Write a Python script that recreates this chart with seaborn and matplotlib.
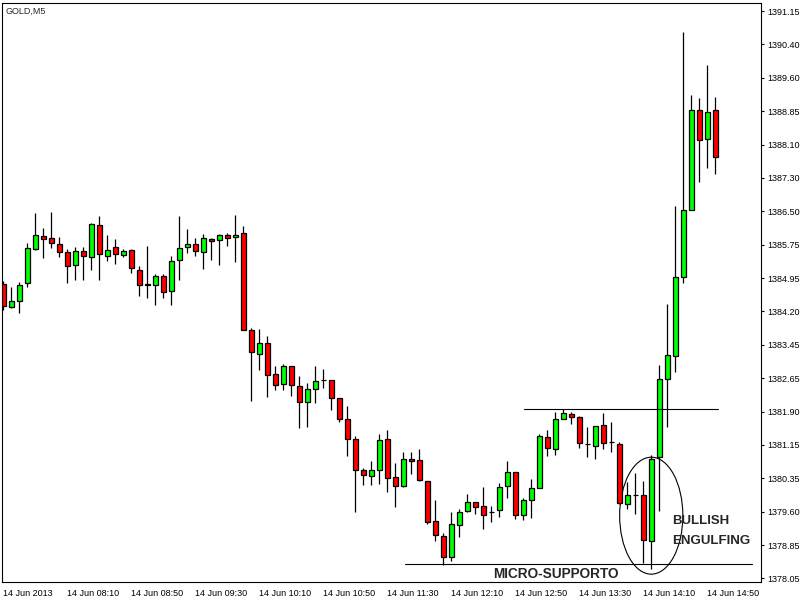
import numpy as np
import seaborn as sns
import matplotlib.pyplot as plt
from matplotlib.patches import Ellipse

# GOLD M5, 14 Jun 2013 (one candle every 5 min from 07:30)
opens = [1384.85, 1384.32, 1384.45, 1384.86, 1385.66, 1385.95, 1385.90, 1385.77, 1385.58, 1385.28,
         1385.60, 1385.47, 1386.21, 1385.49, 1385.70, 1385.51, 1385.63, 1385.16, 1384.84, 1384.82,
         1385.03, 1384.68, 1385.40, 1385.70, 1385.77, 1385.58, 1385.88, 1385.86, 1385.97, 1385.93,
         1386.02, 1383.78, 1383.24, 1383.48, 1382.76, 1382.53, 1382.95, 1382.49, 1382.12, 1382.42,
         1382.63, 1382.63, 1382.21, 1381.73, 1381.26, 1380.55, 1380.41, 1380.55, 1381.26, 1380.39,
         1380.18, 1380.80, 1380.78, 1380.29, 1379.37, 1379.02, 1378.54, 1379.28, 1379.60, 1379.81,
         1379.72, 1379.59, 1379.62, 1380.18, 1380.50, 1379.51, 1379.86, 1380.13, 1381.31, 1381.03,
         1381.73, 1381.84, 1381.77, 1381.15, 1381.10, 1381.59, 1381.19, 1381.15, 1379.76, 1379.97,
         1379.97, 1378.91, 1380.85, 1382.65, 1383.18, 1385.00, 1386.55, 1388.86, 1388.19, 1388.86]
highs = [1384.92, 1384.77, 1384.89, 1385.79, 1386.49, 1386.14, 1386.51, 1385.93, 1385.65, 1385.70,
         1385.70, 1386.26, 1386.42, 1385.98, 1385.89, 1385.66, 1385.66, 1385.26, 1385.73, 1385.08,
         1385.08, 1385.49, 1386.42, 1386.12, 1385.91, 1386.01, 1385.91, 1386.01, 1386.02, 1386.44,
         1386.19, 1383.83, 1383.80, 1383.64, 1382.95, 1383.00, 1382.95, 1382.72, 1382.56, 1382.96,
         1382.89, 1382.63, 1382.21, 1382.03, 1381.33, 1380.59, 1380.76, 1381.38, 1381.47, 1380.71,
         1380.96, 1380.96, 1381.03, 1380.29, 1379.86, 1379.09, 1379.58, 1379.65, 1379.99, 1379.81,
         1380.16, 1379.72, 1380.25, 1380.76, 1380.50, 1379.90, 1380.34, 1381.38, 1381.47, 1381.89,
         1381.96, 1381.89, 1381.79, 1381.55, 1381.56, 1381.86, 1381.66, 1381.19, 1380.27, 1380.48,
         1380.29, 1380.89, 1382.98, 1384.39, 1386.64, 1390.67, 1389.20, 1389.14, 1389.90, 1389.16]
lows = [1384.25, 1384.30, 1384.19, 1384.79, 1385.63, 1385.46, 1385.69, 1385.47, 1384.88, 1384.95,
        1384.95, 1385.16, 1384.95, 1385.37, 1385.32, 1385.48, 1385.10, 1384.56, 1384.53, 1384.37,
        1384.53, 1384.37, 1384.95, 1385.56, 1385.49, 1385.20, 1385.41, 1385.29, 1385.72, 1385.36,
        1383.78, 1382.15, 1382.87, 1382.25, 1382.39, 1382.39, 1382.27, 1381.53, 1381.55, 1382.09,
        1382.44, 1381.94, 1381.67, 1380.88, 1379.59, 1380.20, 1380.20, 1380.22, 1380.04, 1379.69,
        1380.16, 1380.46, 1380.29, 1379.30, 1378.91, 1378.35, 1378.45, 1379.00, 1379.58, 1379.53,
        1379.19, 1379.35, 1379.46, 1379.90, 1379.42, 1379.39, 1379.44, 1380.13, 1380.87, 1380.89,
        1381.73, 1381.61, 1381.06, 1380.85, 1380.80, 1381.03, 1380.96, 1379.76, 1379.65, 1379.53,
        1378.40, 1378.28, 1379.60, 1381.54, 1382.82, 1384.86, 1386.55, 1387.21, 1387.53, 1387.39]
closes = [1384.34, 1384.46, 1384.82, 1385.67, 1385.97, 1385.88, 1385.79, 1385.59, 1385.26, 1385.60,
          1385.49, 1386.23, 1385.53, 1385.63, 1385.53, 1385.60, 1385.21, 1384.82, 1384.82, 1385.03,
          1384.67, 1385.37, 1385.67, 1385.77, 1385.60, 1385.90, 1385.83, 1385.97, 1385.90, 1385.97,
          1383.78, 1383.27, 1383.48, 1382.74, 1382.51, 1382.95, 1382.51, 1382.12, 1382.42, 1382.60,
          1382.63, 1382.21, 1381.73, 1381.26, 1380.55, 1380.43, 1380.55, 1381.24, 1380.36, 1380.18,
          1380.80, 1380.76, 1380.32, 1379.35, 1379.05, 1378.54, 1379.30, 1379.58, 1379.81, 1379.69,
          1379.51, 1379.59, 1380.16, 1380.50, 1379.51, 1379.86, 1380.13, 1381.33, 1381.06, 1381.73,
          1381.86, 1381.77, 1381.17, 1381.15, 1381.56, 1381.17, 1381.19, 1379.79, 1379.97, 1379.97,
          1378.95, 1380.80, 1382.65, 1383.20, 1385.00, 1386.55, 1388.86, 1388.17, 1388.81, 1387.77]

time_labels = ['14 Jun 2013', '14 Jun 08:10', '14 Jun 08:50', '14 Jun 09:30', '14 Jun 10:10',
               '14 Jun 10:50', '14 Jun 11:30', '14 Jun 12:10', '14 Jun 12:50', '14 Jun 13:30',
               '14 Jun 14:10', '14 Jun 14:50']
price_labels = ['1378.05', '1378.85', '1379.60', '1380.35', '1381.15', '1381.90', '1382.65',
                '1383.45', '1384.20', '1384.95', '1385.75', '1386.50', '1387.30', '1388.10',
                '1388.85', '1389.60', '1390.40', '1391.15']

resistenza = 1381.96   # linea orizzontale sopra
supporto = 1378.38     # micro-supporto

sns.set_style('white')
plt.rcParams['font.family'] = ['Liberation Sans', 'DejaVu Sans']

fig = plt.figure(figsize=(8.03, 6.0), dpi=100)
ax = fig.add_axes([0.00286, 0.0305, 0.9444, 0.965])

x = np.arange(len(opens))
o = np.array(opens)
c = np.array(closes)
colori = ['#00FF00' if cc > oo else ('#FF0000' if cc < oo else 'black') for oo, cc in zip(o, c)]

# stoppini e corpi
ax.vlines(x, lows, highs, color='black', linewidth=0.9, zorder=1)
ax.bar(x, np.abs(c - o), bottom=np.minimum(o, c), width=0.6, color=colori,
       edgecolor='black', linewidth=0.9, zorder=2)

# livelli
sns.lineplot(x=[65.1, 89.3], y=[resistenza, resistenza], color='black', linewidth=0.8, ax=ax)
sns.lineplot(x=[50.2, 93.6], y=[supporto, supporto], color='black', linewidth=0.8, ax=ax)

ax.add_patch(Ellipse((81.0, 1379.50), 7.9, 2.70, fill=False, edgecolor='black', linewidth=0.8))

ax.text(83.55, 1379.31, 'BULLISH', fontsize=9.5, fontweight='bold', va='baseline', ha='left')
ax.text(83.55, 1378.85, 'ENGULFING', fontsize=9.5, fontweight='bold', va='baseline', ha='left')
ax.text(61.25, 1378.06, 'MICRO-SUPPORTO', fontsize=9.8, fontweight='bold', va='baseline', ha='left')
ax.text(0.0036, 0.9857, 'GOLD,M5', transform=ax.transAxes, fontsize=6.5, va='center', ha='left')

ax.set_xlim(-0.125, 94.675)
ax.set_ylim(1377.976, 1391.342)

ax.set_xticks(np.arange(0, 89, 8))
ax.set_xticklabels(time_labels, ha='left')
ax.yaxis.tick_right()
ax.set_yticks(np.linspace(1378.05, 1391.15, len(price_labels)))
ax.set_yticklabels(price_labels)
ax.tick_params(axis='both', direction='out', length=2.5, width=0.8, labelsize=6.5, colors='black')
ax.tick_params(axis='y', pad=2.5)
ax.tick_params(axis='x', pad=2.5)

for s in ax.spines.values():
    s.set_visible(True)
    s.set_color('black')
    s.set_linewidth(0.8)

ax.set_xlabel('')
ax.set_ylabel('')

fig.savefig('out.png', dpi=100, facecolor='white')
